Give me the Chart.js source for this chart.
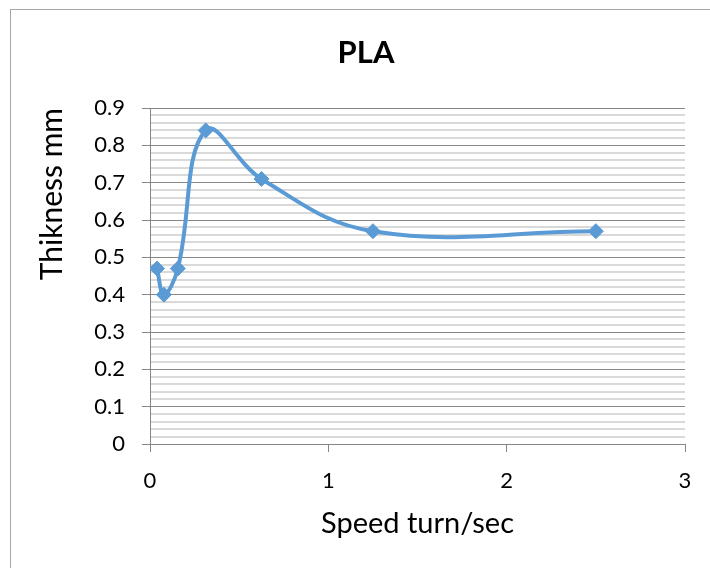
<!DOCTYPE html>
<html>
<head>
<meta charset="utf-8">
<script src="https://cdn.jsdelivr.net/npm/chart.js@4/dist/chart.umd.min.js"></script>
<style>
html,body{margin:0;padding:0;background:#fff;}
canvas{display:block;}
</style>
</head>
<body>
<canvas id="c" width="710" height="568"></canvas>
<script>
const speeds = [0.039, 0.078, 0.156, 0.3125, 0.625, 1.25, 2.5];
const thickness = [0.47, 0.40, 0.47, 0.84, 0.71, 0.57, 0.57];
const chartTitle = 'PLA';
const xTitle = 'Speed turn/sec';
const yTitle = 'Thikness mm';

const FONT = 'Lato, "Open Sans", sans-serif';
const isMajor = v => Math.abs(v * 10 - Math.round(v * 10)) < 1e-6;

const borderPlugin = {
  id: 'outerBorder',
  beforeDraw(chart) {
    const ctx = chart.ctx;
    ctx.save();
    ctx.fillStyle = '#fff';
    ctx.fillRect(0, 0, chart.width, chart.height);
    ctx.strokeStyle = '#a6a6a6';
    ctx.lineWidth = 1;
    ctx.strokeRect(10.5, 9.5, 900, 800);
    ctx.restore();
  }
};

new Chart(document.getElementById('c'), {
  type: 'scatter',
  data: {
    datasets: [{
      data: speeds.map((x, i) => ({x: x, y: thickness[i]})),
      showLine: true,
      tension: 0.4,
      borderColor: '#5B9BD5',
      backgroundColor: '#5B9BD5',
      borderWidth: 4,
      pointStyle: 'rectRot',
      pointRadius: 7.5,
      pointBorderWidth: 1,
      pointBorderColor: '#5B9BD5',
      pointBackgroundColor: '#5B9BD5'
    }]
  },
  options: {
    responsive: false,
    animation: false,
    devicePixelRatio: 1,
    layout: {padding: {left: 47, right: 25, top: 0, bottom: 0}},
    plugins: {
      legend: {display: false},
      tooltip: {enabled: false},
      title: {
        display: true,
        text: chartTitle,
        color: '#000',
        font: {family: FONT, size: 31, weight: 'bold'},
        padding: {top: 34, bottom: 36.8}
      }
    },
    scales: {
      x: {
        type: 'linear',
        min: 0, max: 3,
        ticks: {stepSize: 1, color: '#000', font: {family: FONT, size: 22}, padding: 16},
        grid: {drawOnChartArea: false, drawTicks: true, tickLength: 8, color: '#868686'},
        border: {color: '#868686', width: 1},
        title: {display: true, text: xTitle, color: '#000', font: {family: FONT, size: 29}, padding: {top: 0, bottom: 26.6}},
        afterFit(scale) { scale.height = 124; }
      },
      y: {
        type: 'linear',
        min: 0, max: 0.9,
        ticks: {
          stepSize: 0.02,
          maxTicksLimit: 100,
          autoSkip: false,
          color: '#000',
          font: {family: FONT, size: 22},
          padding: 17,
          callback: v => isMajor(v) ? (Math.round(v * 10) / 10).toString() : ''
        },
        grid: {
          tickLength: 8,
          color: c => isMajor(c.tick.value) ? '#868686' : '#d9d9d9',
          lineWidth: c => isMajor(c.tick.value) ? 1 : 2,
          tickColor: c => isMajor(c.tick.value) ? '#868686' : 'rgba(0,0,0,0)'
        },
        border: {color: '#868686', width: 1},
        title: {display: true, text: yTitle, color: '#000', align: 'end', font: {family: FONT, size: 30}, padding: {top: -13, bottom: 0}},
        afterFit(scale) { scale.width = 103; }
      }
    }
  },
  plugins: [borderPlugin]
});
</script>
</body>
</html>
